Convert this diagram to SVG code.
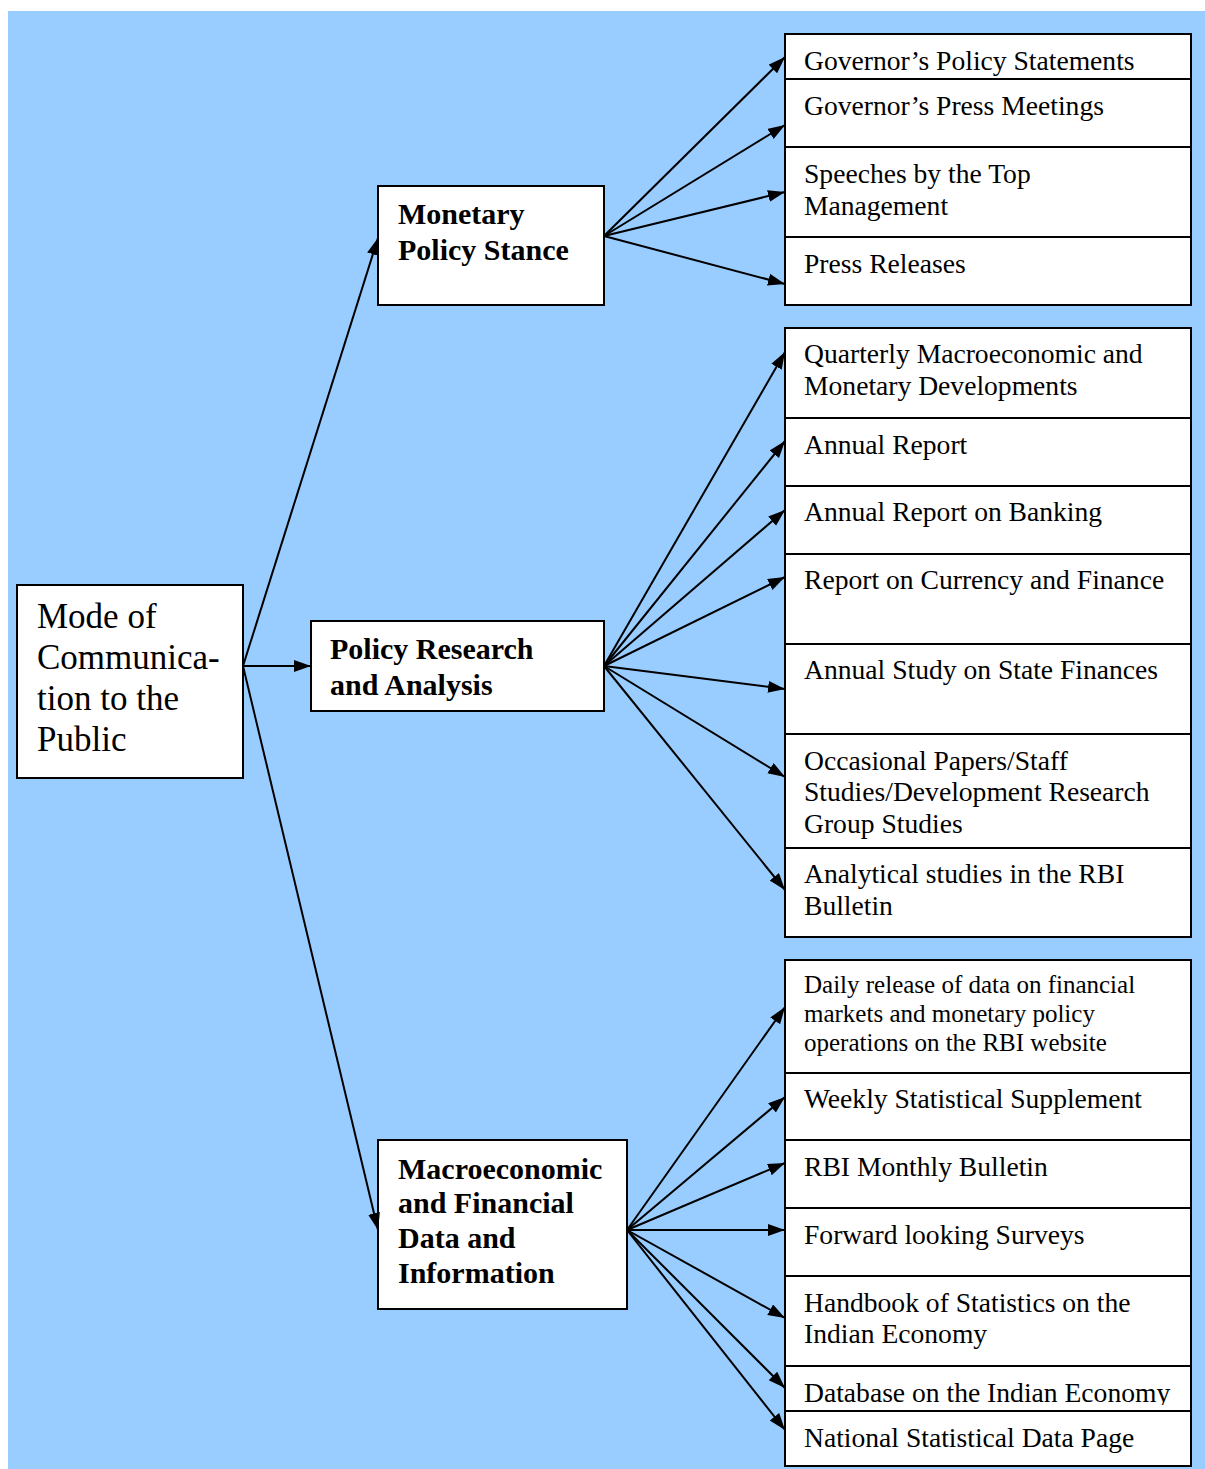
<svg xmlns="http://www.w3.org/2000/svg" width="1205" height="1469" viewBox="0 0 1205 1469">
<style>
.box{fill:#fff;stroke:#000;stroke-width:2}
.t{font-family:"Liberation Serif","Times New Roman",serif;font-size:27.6px;fill:#000}
.ts{font-family:"Liberation Serif","Times New Roman",serif;font-size:25px;fill:#000}
.big{font-family:"Liberation Serif","Times New Roman",serif;font-size:35px;fill:#000}
.b{font-family:"Liberation Serif","Times New Roman",serif;font-size:30px;font-weight:bold;fill:#000}
.c{stroke:#000;stroke-width:2;fill:none;marker-end:url(#ah)}
</style>
<defs>
<marker id="ah" markerUnits="userSpaceOnUse" markerWidth="18" markerHeight="13" refX="17" refY="6" orient="auto">
<path d="M0,0 L17,6 L0,12 z" fill="#000"/>
</marker>
<clipPath id="clipDb"><rect x="785" y="1366" width="406" height="39"/></clipPath>
</defs>
<rect x="8" y="11" width="1197" height="1458" fill="#99CCFF"/>

<g id="mode">
<rect class="box" x="17" y="585" width="226" height="193"/>
<text class="big" x="37" y="628">Mode of</text>
<text class="big" x="37" y="669">Communica-</text>
<text class="big" x="37" y="710">tion to the</text>
<text class="big" x="37" y="751">Public</text>
</g>

<g id="monetary">
<rect class="box" x="378" y="186" width="226" height="119"/>
<text class="b" x="398" y="224">Monetary</text>
<text class="b" x="398" y="260">Policy Stance</text>
</g>

<g id="research">
<rect class="box" x="311" y="621" width="293" height="90"/>
<text class="b" x="330" y="659">Policy Research</text>
<text class="b" x="330" y="695">and Analysis</text>
</g>

<g id="macro">
<rect class="box" x="378" y="1140" width="249" height="169"/>
<text class="b" x="398" y="1179">Macroeconomic</text>
<text class="b" x="398" y="1213">and Financial</text>
<text class="b" x="398" y="1248">Data and</text>
<text class="b" x="398" y="1283">Information</text>
</g>

<g id="g1a"><rect class="box" x="785" y="34" width="406" height="45"/><text class="t" x="804" y="70">Governor’s Policy Statements</text></g>
<g id="g1b"><rect class="box" x="785" y="79" width="406" height="68"/><text class="t" x="804" y="115">Governor’s Press Meetings</text></g>
<g id="g1c"><rect class="box" x="785" y="147" width="406" height="90"/><text class="t" x="804" y="183">Speeches by the Top</text><text class="t" x="804" y="215">Management</text></g>
<g id="g1d"><rect class="box" x="785" y="237" width="406" height="68"/><text class="t" x="804" y="273">Press Releases</text></g>

<g id="g2a"><rect class="box" x="785" y="328" width="406" height="90"/><text class="t" x="804" y="363">Quarterly Macroeconomic and</text><text class="t" x="804" y="395">Monetary Developments</text></g>
<g id="g2b"><rect class="box" x="785" y="418" width="406" height="68"/><text class="t" x="804" y="454">Annual Report</text></g>
<g id="g2c"><rect class="box" x="785" y="486" width="406" height="68"/><text class="t" x="804" y="521">Annual Report on Banking</text></g>
<g id="g2d"><rect class="box" x="785" y="554" width="406" height="90"/><text class="t" x="804" y="589">Report on Currency and Finance</text></g>
<g id="g2e"><rect class="box" x="785" y="644" width="406" height="90"/><text class="t" x="804" y="679">Annual Study on State Finances</text></g>
<g id="g2f"><rect class="box" x="785" y="734" width="406" height="114"/><text class="t" x="804" y="770">Occasional Papers/Staff</text><text class="t" x="804" y="801">Studies/Development Research</text><text class="t" x="804" y="833">Group Studies</text></g>
<g id="g2g"><rect class="box" x="785" y="848" width="406" height="89"/><text class="t" x="804" y="883">Analytical studies in the RBI</text><text class="t" x="804" y="915">Bulletin</text></g>

<g id="g3a"><rect class="box" x="785" y="960" width="406" height="113"/><text class="ts" x="804" y="993">Daily release of data on financial</text><text class="ts" x="804" y="1022">markets and monetary policy</text><text class="ts" x="804" y="1051">operations on the RBI website</text></g>
<g id="g3b"><rect class="box" x="785" y="1073" width="406" height="67"/><text class="t" x="804" y="1108">Weekly Statistical Supplement</text></g>
<g id="g3c"><rect class="box" x="785" y="1140" width="406" height="68"/><text class="t" x="804" y="1176">RBI Monthly Bulletin</text></g>
<g id="g3d"><rect class="box" x="785" y="1208" width="406" height="68"/><text class="t" x="804" y="1244">Forward looking Surveys</text></g>
<g id="g3e"><rect class="box" x="785" y="1276" width="406" height="90"/><text class="t" x="804" y="1312">Handbook of Statistics on the</text><text class="t" x="804" y="1343">Indian Economy</text></g>
<g id="g3f"><rect class="box" x="785" y="1366" width="406" height="45"/><text class="t" x="804" y="1402" clip-path="url(#clipDb)">Database on the Indian Economy</text></g>
<g id="g3g"><rect class="box" x="785" y="1411" width="406" height="55"/><text class="t" x="804" y="1447">National Statistical Data Page</text></g>

<g id="connectors">
<line class="c" x1="243" y1="666" x2="378" y2="238"/>
<line class="c" x1="243" y1="666" x2="311" y2="666"/>
<line class="c" x1="243" y1="666" x2="378" y2="1230"/>

<line class="c" x1="604" y1="236" x2="785" y2="57"/>
<line class="c" x1="604" y1="236" x2="785" y2="125"/>
<line class="c" x1="604" y1="236" x2="785" y2="192"/>
<line class="c" x1="604" y1="236" x2="785" y2="284"/>

<line class="c" x1="604" y1="666" x2="785" y2="352"/>
<line class="c" x1="604" y1="666" x2="785" y2="441"/>
<line class="c" x1="604" y1="666" x2="785" y2="510"/>
<line class="c" x1="604" y1="666" x2="785" y2="577"/>
<line class="c" x1="604" y1="666" x2="785" y2="689"/>
<line class="c" x1="604" y1="666" x2="785" y2="777"/>
<line class="c" x1="604" y1="666" x2="785" y2="890"/>

<line class="c" x1="627" y1="1230" x2="785" y2="1007"/>
<line class="c" x1="627" y1="1230" x2="785" y2="1097"/>
<line class="c" x1="627" y1="1230" x2="785" y2="1163"/>
<line class="c" x1="627" y1="1230" x2="785" y2="1230"/>
<line class="c" x1="627" y1="1230" x2="785" y2="1318"/>
<line class="c" x1="627" y1="1230" x2="785" y2="1388"/>
<line class="c" x1="627" y1="1230" x2="785" y2="1430"/>
</g>
</svg>
